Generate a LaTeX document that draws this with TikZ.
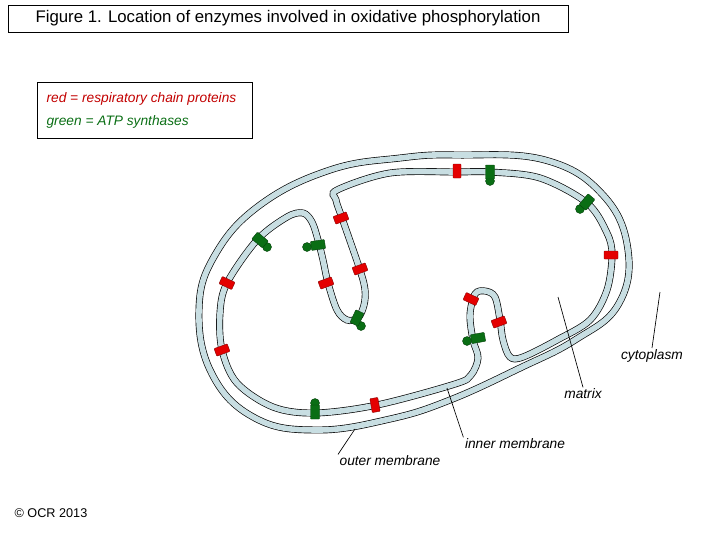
\documentclass[tikz,border=0pt]{standalone}
\usepackage{fontspec}
\setmainfont{Liberation Sans}
\definecolor{memb}{RGB}{200,222,226}
\definecolor{rc}{RGB}{228,0,0}
\definecolor{gc}{RGB}{10,110,20}
\begin{document}
\begin{tikzpicture}[x=0.75pt,y=-0.75pt,
  membrane/.style={draw=black,line width=0.5pt,double=memb,double distance=4.2pt},
  redp/.style={draw=rc!60!black,line width=0.3pt,fill=rc,minimum width=14*0.75pt,minimum height=8*0.75pt,inner sep=0pt,rounded corners=0.5pt},
  greenp/.style={draw=gc!60!black,line width=0.3pt,fill=gc,minimum width=14*0.75pt,minimum height=9*0.75pt,inner sep=0pt,rounded corners=0.5pt},
  ball/.style={circle,draw=gc!60!black,line width=0.3pt,fill=gc,minimum size=9*0.75pt,inner sep=0pt},
  lab/.style={font=\itshape\fontsize{10.3}{12}\selectfont,inner sep=1pt},
  pointer/.style={draw=black,line width=0.5pt}]
\useasboundingbox (0,0) rectangle (720,540);
% title
\node[draw,line width=0.6pt,inner sep=0pt,minimum width=560*0.75pt,minimum height=27*0.75pt,font=\fontsize{12.6}{14}\selectfont] (title) at (288,18.5) {Figure 1. Location of enzymes involved in oxidative phosphorylation};
% legend
\node[draw,line width=0.6pt,minimum width=215*0.75pt,minimum height=56*0.75pt] (legend) at (144.5,110) {};
\node[lab,anchor=west,text=rc!85!black] (lr) at (45,99) {red = respiratory chain proteins};
\node[lab,anchor=west,text=gc] (lg) at (45,122) {green = ATP synthases};
% outer membrane
\draw[membrane] plot[smooth cycle,tension=0.7] coordinates {(457,155) (545,160) (603,195) (628,250) (618,305) (575,340) (520,368) (450,400) (390,419) (317,430) (255,418) (212,374) (199,310) (215,255) (260,205) (330,170) (400,158)};
% inner membrane
\draw[membrane] plot[smooth cycle,tension=0.55] coordinates {(337,190) (390,173) (457,172) (490,172) (540,178) (587,203) (607,233) (612,255) (607,290) (590,320) (557,340) (523,357) (510,357) (503,340) (500,320) (495,297) (485,291) (475,294) (470,315) (473,340) (478,358) (471,375) (455,384) (377,405) (315,413) (273,407) (237,383) (222,350) (220,313) (227,283) (257,240) (287,217) (303,213) (312,222) (318,240) (323,260) (328,283) (337,310) (347,320) (358,318) (364,305) (365,290) (360,270) (342,218) (336,200)};
% red proteins
\node[redp,rotate=90] (r1) at (457,171) {};
\node[redp] (r2) at (611,255) {};
\node[redp,rotate=20] (r3) at (341,218) {};
\node[redp,rotate=20] (r4) at (360,269) {};
\node[redp,rotate=20] (r5) at (326,283) {};
\node[redp,rotate=-25] (r6) at (227,283) {};
\node[redp,rotate=20] (r7) at (222,350) {};
\node[redp,rotate=100] (r8) at (375,405) {};
\node[redp,rotate=-25] (r9) at (471,299) {};
\node[redp,rotate=20] (r10) at (499,322) {};
% green proteins
\node[ball] (b1) at (490,181) {};
\node[greenp,rotate=90] (g1) at (490,172) {};
\node[ball] (b2) at (580,209) {};
\node[greenp,rotate=50] (g2) at (587,202) {};
\node[ball] (b3) at (267,247) {};
\node[greenp,rotate=-40] (g3) at (260,240) {};
\node[ball] (b4) at (307,247) {};
\node[greenp,rotate=8] (g4) at (318,245) {};
\node[ball] (b5) at (361,326) {};
\node[greenp,rotate=65] (g5) at (357,318) {};
\node[ball] (b6) at (467,341) {};
\node[greenp,rotate=10] (g6) at (478,338) {};
\node[ball] (b7) at (315,403) {};
\node[greenp,rotate=90] (g7) at (315,412) {};
% labels
\node[lab] (cyto) at (652,356) {cytoplasm};
\node[lab] (matrix) at (583,394) {matrix};
\node[lab] (inner) at (515,444) {inner membrane};
\node[lab] (outer) at (390,461) {outer membrane};
\coordinate (pc) at (660,292);
\coordinate (pm) at (558,297);
\coordinate (pi) at (447,388);
\coordinate (po) at (355,429);
\draw[pointer] (pc) -- (cyto.north);
\draw[pointer] (pm) -- (matrix.north);
\draw[pointer] (pi) -- (inner.north west);
\draw[pointer] (po) -- (outer.north west);
\node[inner sep=0pt,font=\fontsize{9.5}{11}\selectfont] (copy) at (51,513) {© OCR 2013};
\end{tikzpicture}
\end{document}
